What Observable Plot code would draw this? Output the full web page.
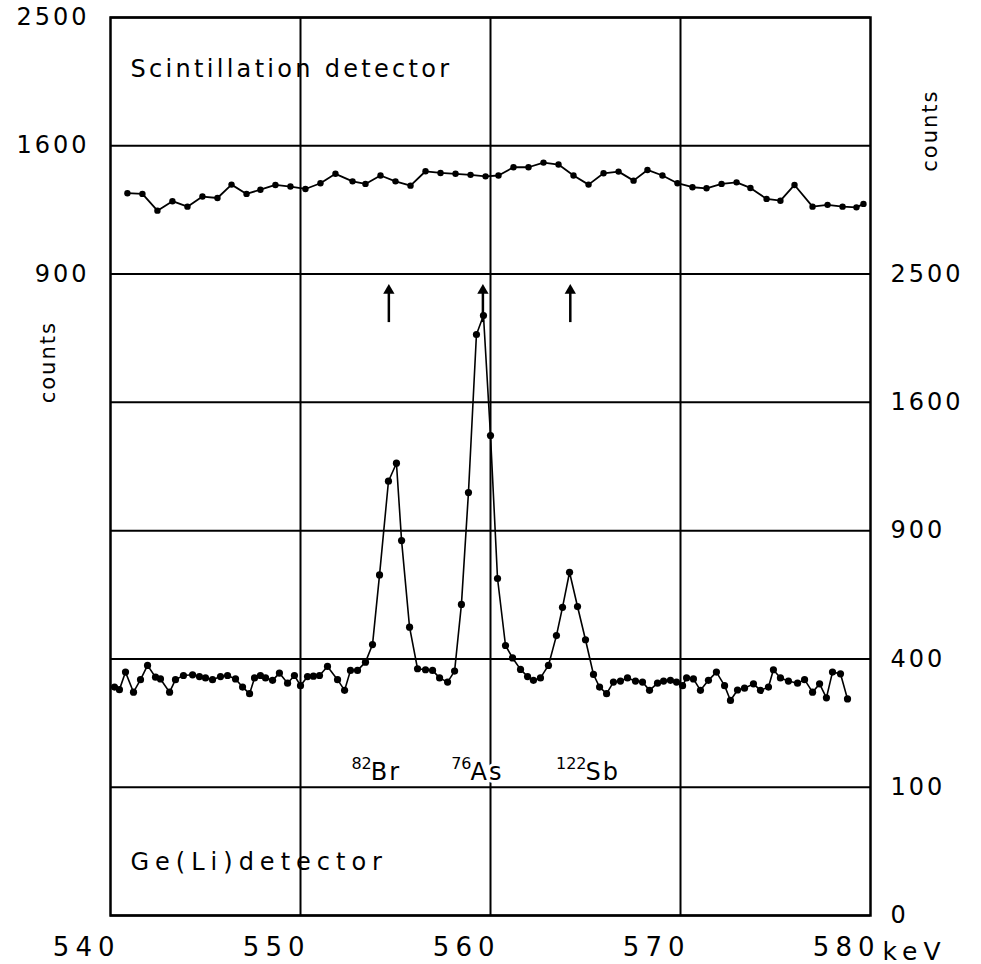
<!DOCTYPE html>
<html>
<head>
<meta charset="utf-8">
<script src="https://cdn.jsdelivr.net/npm/d3@7"></script>
<script src="https://cdn.jsdelivr.net/npm/@observablehq/plot@0.6"></script>
<style>
  html, body { margin: 0; padding: 0; background: #fff; }
  #chart svg { display: block; }
</style>
</head>
<body>
<div id="chart"></div>
<script>
// Scintillation detector spectrum (energy in keV, counts)
const scintKeV = [540.89,541.68,542.47,543.26,544.05,544.84,545.63,546.37,547.16,547.89,
  548.68,549.47,550.26,551.05,551.84,552.74,553.42,554.21,555.0,555.79,
  556.58,557.37,558.16,558.95,559.74,560.42,561.21,562.0,562.79,563.58,
  564.37,565.16,565.95,566.74,567.53,568.26,569.05,569.84,570.63,571.37,
  572.16,572.95,573.68,574.53,575.26,576.0,576.95,577.74,578.53,579.26,579.63];
const scintCounts = [1318,1314,1221,1273,1243,1299,1291,1367,1314,1338,
  1365,1356,1342,1375,1430,1386,1371,1420,1386,1361,
  1445,1435,1430,1424,1415,1420,1469,1469,1497,1485,
  1420,1367,1433,1443,1390,1453,1420,1375,1352,1346,
  1371,1380,1348,1286,1276,1365,1243,1253,1243,1239,1258];

// Ge(Li) detector spectrum (energy in keV, counts)
const geKeV = [540.21,540.47,540.79,541.21,541.58,541.95,542.37,542.63,543.11,543.42,
  543.84,544.32,544.68,545.0,545.37,545.79,546.16,546.58,546.95,547.32,
  547.58,547.89,548.16,548.53,548.89,549.32,549.68,550.0,550.37,550.68,
  551.0,551.42,551.95,552.32,552.63,553.0,553.42,553.79,554.16,554.63,
  555.05,555.32,555.74,556.16,556.58,556.95,557.32,557.74,558.11,558.47,
  558.84,559.26,559.63,560.0,560.37,560.79,561.16,561.58,561.95,562.26,
  562.63,563.05,563.47,563.79,564.16,564.58,565.0,565.42,565.74,566.11,
  566.47,566.84,567.21,567.63,568.0,568.37,568.79,569.11,569.47,569.79,
  570.11,570.32,570.68,571.05,571.47,571.89,572.32,572.63,573.0,573.37,
  573.84,574.21,574.63,574.89,575.26,575.68,576.16,576.53,576.95,577.32,
  577.68,578.0,578.42,578.79];
const geCounts = [317,310,360,303,338,380,345,340,303,338,
  350,352,347,343,338,347,350,340,317,299,
  343,350,343,336,357,328,350,321,347,348,
  350,377,338,308,365,365,390,446,705,1146,
  1243,854,505,370,367,365,343,331,363,588,
  1087,2051,2187,1400,690,443,403,368,347,336,
  343,380,476,577,716,580,462,353,317,299,
  331,334,343,334,331,308,328,334,336,331,
  321,343,340,308,336,360,321,281,309,314,
  326,308,317,367,343,334,328,338,303,326,
  288,360,355,285];

// Axis ticks
const xTicks = [540, 550, 560, 570, 580];
const geTicks = [0, 100, 400, 900, 1600, 2500];
const scintTicks = [900, 1600, 2500];

// Gamma lines of the activation products
const peakKeV = [554.65, 559.6, 564.2];
const isotopes = ["82", "76", "122"];
const elements = ["Br", "As", "Sb"];
const labelKeV = [553.7, 558.95, 565.0];

// Both spectra share one square-root axis; the scintillation trace
// sits 20 root-units higher, read off the left-hand scale.
const OFFSET = 20;
const lift = c => (Math.sqrt(c) + OFFSET) ** 2;
const unlift = v => Math.round((Math.sqrt(v) - OFFSET) ** 2);

const scint = scintKeV.map((k, i) => ({keV: k, counts: scintCounts[i]}));
const ge = geKeV.map((k, i) => ({keV: k, counts: geCounts[i]}));
const labels = elements.map((e, i) => ({keV: labelKeV[i], iso: isotopes[i], el: e}));

const font = "DejaVu Sans, sans-serif";

const chart = Plot.plot({
  width: 981,
  height: 964,
  marginLeft: 110,
  marginRight: 111,
  marginTop: 17,
  marginBottom: 49,
  x: {domain: [540, 580]},
  y: {type: "sqrt", domain: [0, 4900]},
  style: {fontFamily: font, fontSize: "24px", letterSpacing: "3px", color: "black", background: "white", overflow: "visible"},
  marks: [
    // grid
    Plot.ruleY(geTicks.concat(scintTicks.map(lift)), {stroke: "black", strokeWidth: 2}),
    Plot.ruleX([550, 560, 570], {stroke: "black", strokeWidth: 2}),
    Plot.frame({stroke: "black", strokeWidth: 2.5}),

    // axes
    Plot.axisX(xTicks, {anchor: "bottom", tickSize: 0, tickPadding: 22, label: null, fontSize: 26,
      textAnchor: "end", dx: 10}),
    Plot.axisY(geTicks, {anchor: "right", tickSize: 0, tickPadding: 20, label: null, fontSize: 24,
      tickFormat: d => String(d)}),
    Plot.axisY(scintTicks.map(lift), {anchor: "left", tickSize: 0, tickPadding: 21, label: null, fontSize: 24,
      tickFormat: d => String(unlift(d))}),
    Plot.text(["keV"], {x: () => 580, y: () => 0, dx: 12, dy: 36, textAnchor: "start", fontSize: 25}),
    Plot.text(["counts"], {frameAnchor: "left", y: () => 1860, dx: -62, rotate: -90, textAnchor: "middle", fontSize: 21}),
    Plot.text(["counts"], {frameAnchor: "right", y: () => 3743, dx: 60, rotate: -90, textAnchor: "middle", fontSize: 21}),

    // scintillation spectrum
    Plot.line(scint, {x: "keV", y: d => lift(d.counts), stroke: "black", strokeWidth: 1.8}),
    Plot.dot(scint, {x: "keV", y: d => lift(d.counts), r: 3.2, fill: "black"}),

    // Ge(Li) spectrum
    Plot.line(ge, {x: "keV", y: "counts", stroke: "black", strokeWidth: 1.6}),
    Plot.dot(ge, {x: "keV", y: "counts", r: 3.6, fill: "black"}),

    // markers for the expected line positions
    Plot.ruleX(peakKeV, {y1: () => 2136, y2: () => 2380, stroke: "black", strokeWidth: 2.5}),
    Plot.dot(peakKeV, {x: d => d, y: () => 2373, symbol: "triangle", r: 4.2, fill: "black", stroke: "none"}),

    // isotope labels
    Plot.text(labels, {x: "keV", y: () => 124, text: "el", textAnchor: "start", fontSize: 24,
      stroke: "white", strokeWidth: 6, fill: "black"}),
    Plot.text(labels, {x: "keV", y: () => 124, text: "iso", textAnchor: "end", dy: -9, dx: 1, fontSize: 16,
      stroke: "white", strokeWidth: 5, fill: "black"}),

    // detector captions
    Plot.text(["Scintillation detector"], {frameAnchor: "top-left", dx: 20, dy: 42, textAnchor: "start", fontSize: 24}),
    Plot.text(["Ge(Li)detector"], {frameAnchor: "bottom-left", dx: 20, dy: -46, textAnchor: "start", fontSize: 24})
  ]
});

// Letter spacing per label, for the stencil-lettered look
const spacing = new Map([
  ["keV", "6px"],
  ["counts", "2px"],
  ["Scintillation detector", "3.3px"],
  ["Ge(Li)detector", "6px"],
  ...elements.map(e => [e, "2px"]),
  ...isotopes.map(s => [s, "0px"])
]);
d3.select(chart).selectAll("text").each(function () {
  const value = spacing.get(this.textContent);
  if (value) this.style.letterSpacing = value;
});
d3.select(chart).selectAll('g[aria-label="x-axis tick label"]').style("letter-spacing", "6px");

document.getElementById("chart").appendChild(chart);
</script>
</body>
</html>
